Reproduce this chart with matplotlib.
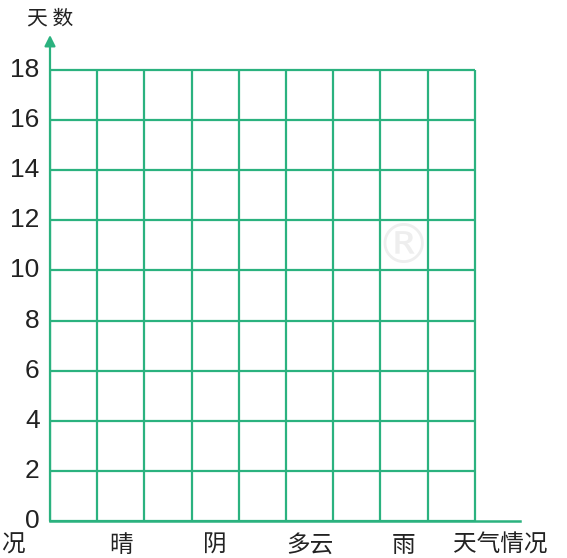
import matplotlib.pyplot as plt

plt.rcParams['font.family'] = ['Noto Sans CJK SC', 'DejaVu Sans']

# 数据
weather = ['晴', '阴', '多云', '雨']
weather_pos = [1.5, 3.5, 5.5, 7.5]
y_ticks = [0, 2, 4, 6, 8, 10, 12, 14, 16, 18]
n_cols = 9
y_max = 18

green = '#2bb27f'
W, H = 567, 558

fig = plt.figure(figsize=(W / 100, H / 100), dpi=100)
ax = fig.add_axes([50 / W, (H - 521) / H, 470 / W, 486 / H])
ax.set_xlim(0, 470 / 47.2)
ax.set_ylim(0, 486 / 25.06)
for s in ax.spines.values():
    s.set_visible(False)
ax.set_xticks([])
ax.set_yticks([])

# 网格
for y in y_ticks:
    ax.plot([0, n_cols], [y, y], color=green, lw=1.6, solid_capstyle='butt')
for x in range(n_cols + 1):
    ax.plot([x, x], [0, y_max], color=green, lw=1.6, solid_capstyle='butt')

# 坐标轴
ax.plot([0, 470 / 47.2], [0, 0], color=green, lw=1.8, clip_on=False)
ax.annotate('', xy=(0, 486 / 25.06), xytext=(0, 0),
            arrowprops=dict(arrowstyle='-|>', color=green, lw=1.6,
                            mutation_scale=16, shrinkA=0, shrinkB=0))

# 刻度文字
for y in y_ticks:
    ax.text(-0.22, y, str(y), ha='right', va='center', fontsize=19,
            family='Liberation Sans', color='#222222')
for x, name in zip(weather_pos, weather):
    ax.text(x, -0.98, name, ha='center', va='center', fontsize=17, color='#222222')

ax.text(9.53, -0.98, '天气情况', ha='center', va='center', fontsize=17,
        color='#222222', clip_on=False)
ax.text(-0.78, -0.98, '况', ha='center', va='center', fontsize=17, color='#222222')
ax.text(0.0, 20.05, '天 数', ha='center', va='center', fontsize=15, color='#222222')

# 水印
ax.text(7.48, 10.9, '®', ha='center', va='center', fontsize=40, color='#eeeeee',
        family='DejaVu Sans', zorder=0)

fig.savefig('out.png', dpi=100)
